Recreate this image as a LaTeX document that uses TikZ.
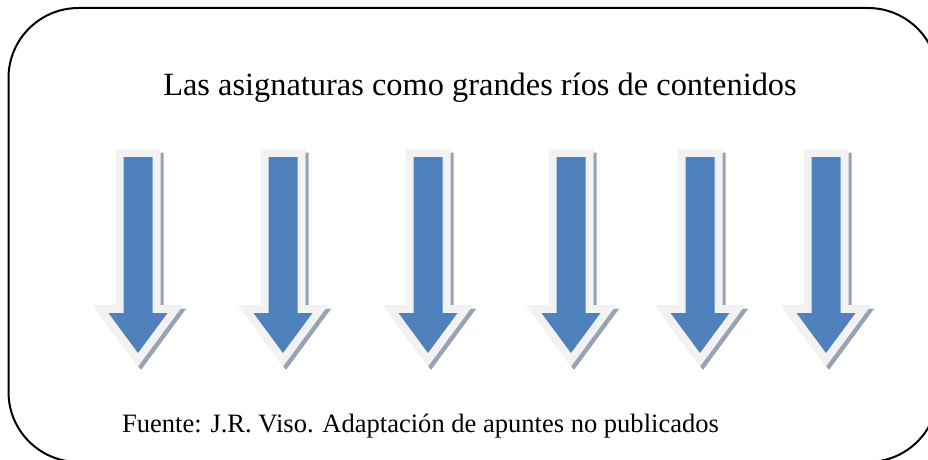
\documentclass[tikz,border=0pt]{standalone}
\usepackage{fontspec}
\setmainfont{Liberation Serif}
\definecolor{azul}{HTML}{4F81BD}
\definecolor{borde}{HTML}{F2F2F2}
\definecolor{sombra}{HTML}{98A4B6}
\tikzset{
  marco/.style={line width=1.5pt, rounded corners=52.5pt},
  flecha/.style={fill=azul,
    preaction={draw=sombra, fill=sombra, line width=12pt, line join=miter,
      transform canvas={shift={(3,3.5)}}},
    preaction={draw=borde, fill=borde, line width=12pt, line join=miter}},
}
\begin{document}
\begin{tikzpicture}[x=0.75pt, y=-0.75pt]
\useasboundingbox (0,0) rectangle (928,460);
\clip (0,0) rectangle (928,460);

\coordinate (A) at (138,0);
\coordinate (B) at (283,0);
\coordinate (C) at (428,0);
\coordinate (D) at (571,0);
\coordinate (E) at (700,0);
\coordinate (F) at (826,0);

\draw[marco] (8.5,8) rectangle (938,462);

\node[anchor=base, font=\fontsize{24.3}{29}\selectfont] (titulo) at (480,96) {Las asignaturas como grandes ríos de contenidos};
\node[anchor=base, font=\fontsize{19.9}{24}\selectfont] (fuente) at (420.5,432) {Fuente: J.R. Viso. Adaptación de apuntes no publicados};

\path[flecha, shift={(A)}] (-14.5,157) -- (14.5,157) -- (14.5,313) -- (29.5,313) -- (0,353) -- (-29.5,313) -- (-14.5,313) -- cycle;
\path[flecha, shift={(B)}] (-14.5,157) -- (14.5,157) -- (14.5,313) -- (29.5,313) -- (0,353) -- (-29.5,313) -- (-14.5,313) -- cycle;
\path[flecha, shift={(C)}] (-14.5,157) -- (14.5,157) -- (14.5,313) -- (29.5,313) -- (0,353) -- (-29.5,313) -- (-14.5,313) -- cycle;
\path[flecha, shift={(D)}] (-14.5,157) -- (14.5,157) -- (14.5,313) -- (29.5,313) -- (0,353) -- (-29.5,313) -- (-14.5,313) -- cycle;
\path[flecha, shift={(E)}] (-14.5,157) -- (14.5,157) -- (14.5,313) -- (29.5,313) -- (0,353) -- (-29.5,313) -- (-14.5,313) -- cycle;
\path[flecha, shift={(F)}] (-14.5,157) -- (14.5,157) -- (14.5,313) -- (29.5,313) -- (0,353) -- (-29.5,313) -- (-14.5,313) -- cycle;
\end{tikzpicture}
\end{document}
